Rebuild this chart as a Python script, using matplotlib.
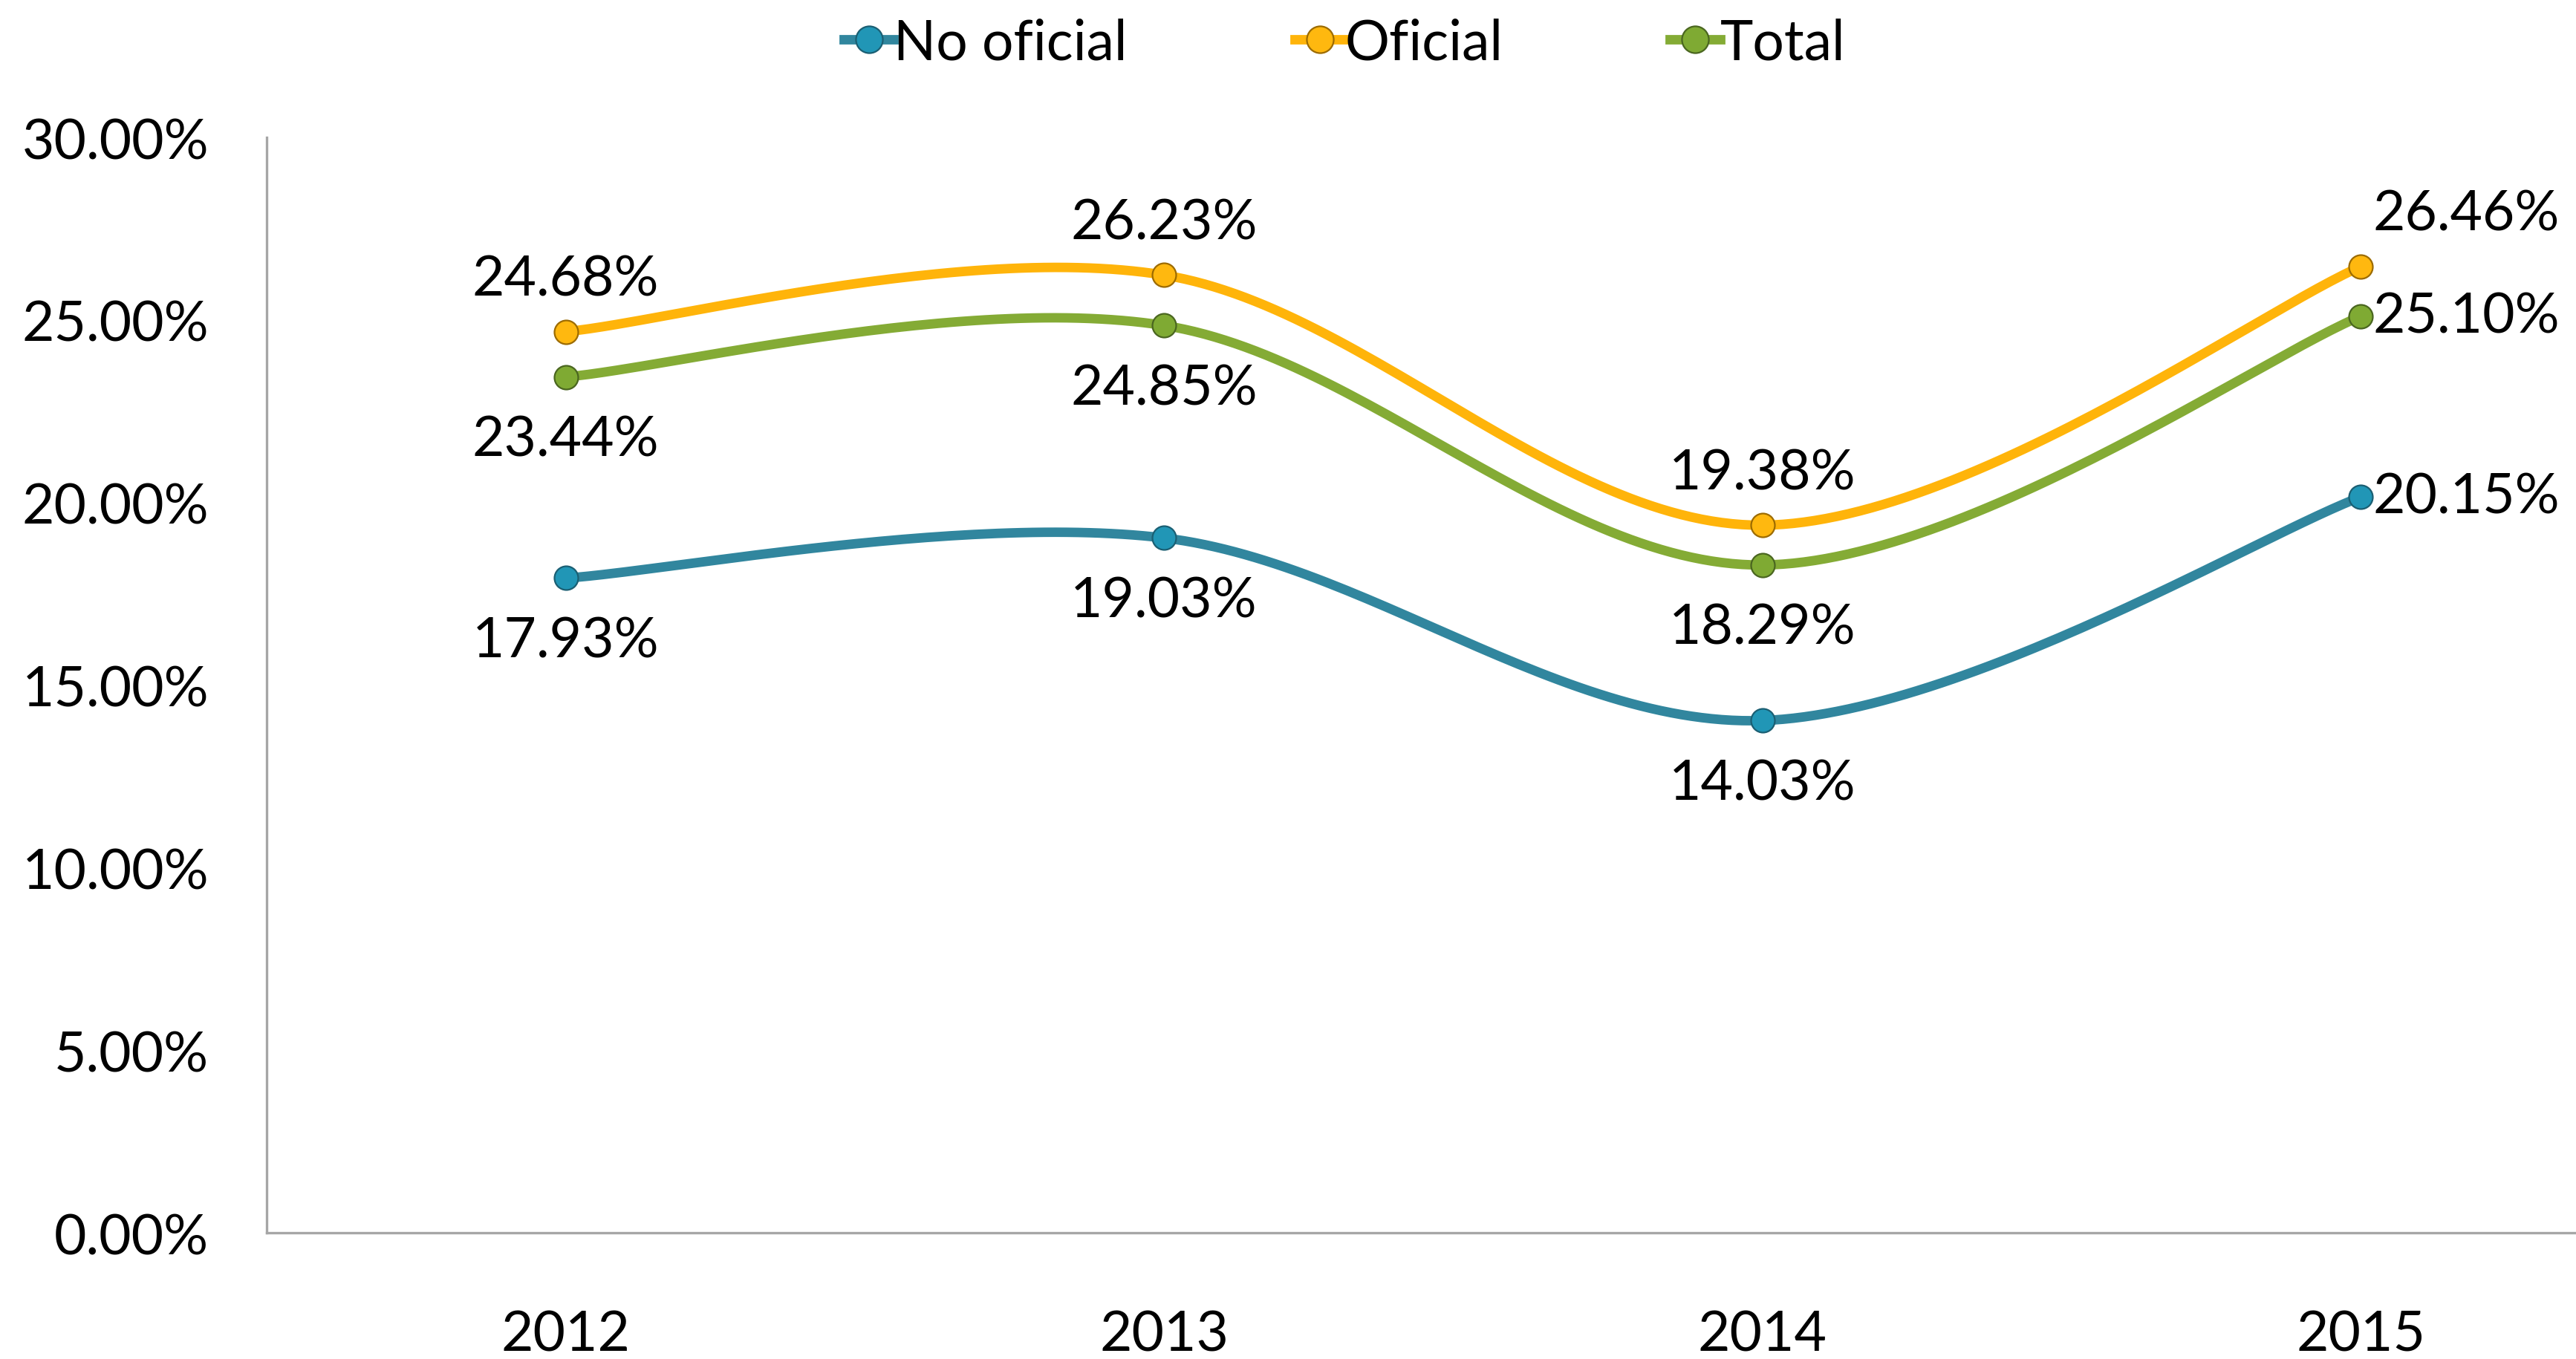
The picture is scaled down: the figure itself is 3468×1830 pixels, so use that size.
import matplotlib.pyplot as plt
import numpy as np
from matplotlib.lines import Line2D

plt.rcParams['font.family'] = ['Lato', 'DejaVu Sans']

years = ['2012', '2013', '2014', '2015']
no_oficial = [17.93, 19.03, 14.03, 20.15]
oficial = [24.68, 26.23, 19.38, 26.46]
total = [23.44, 24.85, 18.29, 25.10]

series = [
    ('No oficial', no_oficial, '#31869E', '#2196B6', '#1B5F73',
     ['below', 'below', 'below', 'right']),
    ('Oficial', oficial, '#FFB40A', '#FFB80F', '#9C6B00',
     ['above', 'above', 'above', 'above_right']),
    ('Total', total, '#84AB35', '#7FAA33', '#4A6620',
     ['below', 'below', 'below', 'right']),
]


def smooth(x, y, n=60):
    # excel style smoothed line (catmull-rom as cubic bezier)
    x = np.asarray(x, float)
    y = np.asarray(y, float)
    px = np.concatenate([[x[0]], x, [x[-1]]])
    py = np.concatenate([[y[0]], y, [y[-1]]])
    xs, ys = [], []
    t = np.linspace(0, 1, n)
    for i in range(len(x) - 1):
        p0 = np.array([px[i + 1], py[i + 1]])
        p3 = np.array([px[i + 2], py[i + 2]])
        c1 = p0 + (np.array([px[i + 2], py[i + 2]]) - np.array([px[i], py[i]])) / 6
        c2 = p3 - (np.array([px[i + 3], py[i + 3]]) - np.array([px[i + 1], py[i + 1]])) / 6
        pts = (((1 - t) ** 3)[:, None] * p0 + (3 * (1 - t) ** 2 * t)[:, None] * c1
               + (3 * (1 - t) * t ** 2)[:, None] * c2 + (t ** 3)[:, None] * p3)
        xs.extend(pts[:, 0])
        ys.extend(pts[:, 1])
    return xs, ys


FS = 27

fig = plt.figure(figsize=(17.34, 9.155), dpi=200)
ax = fig.add_axes([0.1035, 0.0928, 0.8965, 0.8056])

x = np.arange(len(years))
handles = []
for name, vals, lc, mc, ec, pos in series:
    sx, sy = smooth(x, vals)
    ax.plot(sx, sy, color=lc, lw=4.6, solid_capstyle='round', zorder=2)
    ax.plot(x, vals, 'o', ms=11.5, mfc=mc, mec=ec, mew=0.8, zorder=3)
    for xi, v, p in zip(x, vals, pos):
        if p == 'above':
            off, ha, va = (0, 13), 'center', 'bottom'
        elif p == 'below':
            off, ha, va = (0, -18), 'center', 'top'
        elif p == 'right':
            off, ha, va = (6, 0), 'left', 'center'
        else:
            off, ha, va = (6, 13), 'left', 'bottom'
        ax.annotate(f'{v:.2f}%', (xi, v), xytext=off, textcoords='offset points',
                    ha=ha, va=va, fontsize=FS, color='black', zorder=4,
                    annotation_clip=False)
    handles.append(Line2D([0], [0], color=lc, lw=4.6, marker='o', ms=13,
                          mfc=mc, mec=ec, mew=0.8))

ax.set_xlim(-0.5, 3.36)
ax.set_ylim(0, 30)
ax.set_yticks(np.arange(0, 31, 5))
ax.set_yticklabels([f'{v:.2f}%' for v in np.arange(0, 31, 5)])
ax.set_xticks(x)
ax.set_xticklabels(years)
ax.tick_params(axis='both', length=0, labelsize=FS)
ax.tick_params(axis='y', pad=28)
ax.tick_params(axis='x', pad=37)
for s in ['top', 'right']:
    ax.spines[s].set_visible(False)
for s in ['left', 'bottom']:
    ax.spines[s].set_color('#A6A6A6')
    ax.spines[s].set_linewidth(1.2)

fig.legend(handles, [s[0] for s in series], loc='center', bbox_to_anchor=(0.522, 0.968),
           ncol=3, frameon=False, fontsize=FS, handlelength=0.9, handletextpad=0.0,
           columnspacing=3.0)

fig.savefig('out.png', dpi=200, facecolor='white')
